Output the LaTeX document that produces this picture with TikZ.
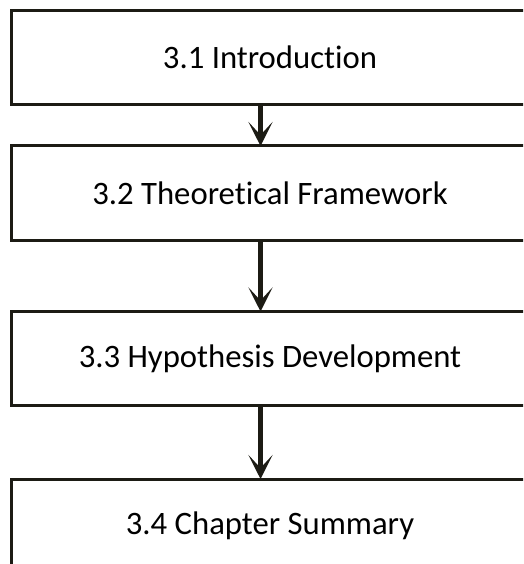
\documentclass[tikz,border=0pt]{standalone}
\usepackage{fontspec}
\setmainfont[Ligatures={NoCommon}]{Carlito}
\usetikzlibrary{arrows.meta}
\definecolor{ink}{RGB}{28,27,20}
\tikzset{
  stagebox/.style={draw=ink, line width=3pt, minimum width=518pt, minimum height=94pt,
    outer sep=0pt, inner sep=0pt, font=\fontsize{32.7}{36}\selectfont, text=black},
  flow/.style={draw=ink, line width=4.5pt,
    -{Stealth[length=24pt, width=24pt, inset=13pt, fill=ink]}}
}
\begin{document}
\begin{tikzpicture}[x=1pt, y=-1pt]
  \useasboundingbox (0,0) rectangle (523,564);
  \clip (0,0) rectangle (523,564);
  \node[stagebox] (intro)  at (270,57.75) {3.1 Introduction};
  \node[stagebox] (frame)  at (270,193)   {3.2 Theoretical Framework};
  \node[stagebox] (hypo)   at (270,358.5) {3.3 Hypothesis Development};
  \node[stagebox] (summ)   at (270,526)   {3.4 Chapter Summary};
  \draw[flow] (intro.south -| 260.5,0) -- (frame.north -| 260.5,0);
  \draw[flow] (frame.south -| 260.5,0) -- (hypo.north -| 260.5,0);
  \draw[flow] (hypo.south -| 260.5,0) -- (summ.north -| 260.5,0);
\end{tikzpicture}
\end{document}
